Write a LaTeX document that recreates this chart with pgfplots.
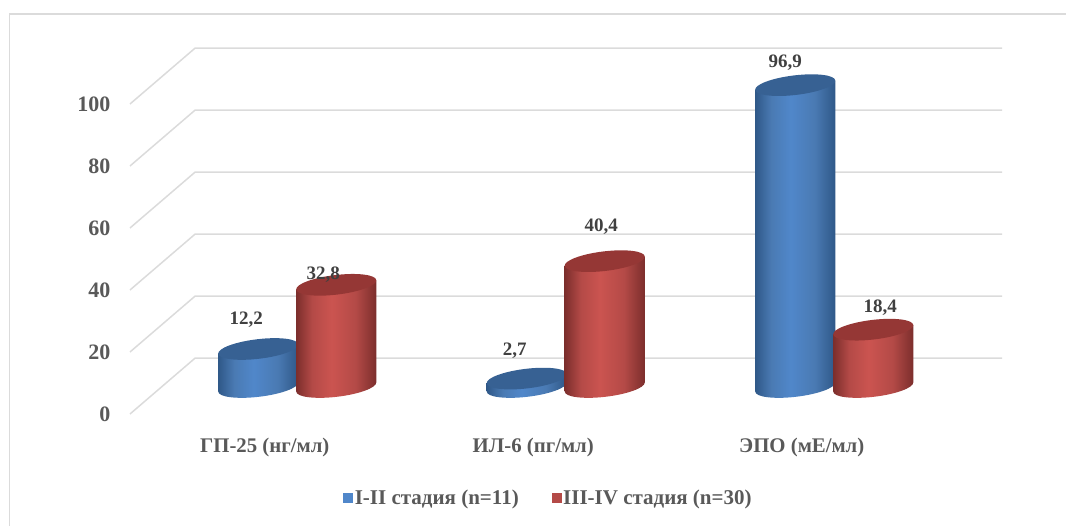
\documentclass[border=0pt]{standalone}
\usepackage{fontspec}
\setmainfont{Liberation Serif}
\usepackage{pgfplots}
\pgfplotsset{compat=1.18}

\definecolor{blueedge}{HTML}{2F5888}
\definecolor{bluemid}{HTML}{4A7AB3}
\definecolor{bluelight}{HTML}{5087CA}
\definecolor{bluetop}{HTML}{376193}
\definecolor{rededge}{HTML}{7C2E2C}
\definecolor{redmid}{HTML}{B44A47}
\definecolor{redlight}{HTML}{CB5450}
\definecolor{redtop}{HTML}{953735}
\definecolor{gridgray}{HTML}{DBDBDB}
\definecolor{axistext}{HTML}{595959}
\definecolor{valuetext}{HTML}{404040}

\pgfdeclarehorizontalshading{cylblue}{100bp}{%
  color(0bp)=(blueedge);color(25bp)=(blueedge);color(35bp)=(bluemid);
  color(47bp)=(bluelight);color(62bp)=(bluemid);color(75bp)=(blueedge);color(100bp)=(blueedge)}
\pgfdeclarehorizontalshading{cylred}{100bp}{%
  color(0bp)=(rededge);color(25bp)=(rededge);color(35bp)=(redmid);
  color(47bp)=(redlight);color(62bp)=(redmid);color(75bp)=(rededge);color(100bp)=(rededge)}

% Tilted cylinder, 3.115 pt per unit of value, drawn from its top centre:
% side wall with rounded base, then the darker top face.
% The ellipse axes are 40.3 pt and 9.8 pt, turned by 6.8 degrees.
\newcommand{\defcylinder}[3]{%
  \pgfdeclareplotmark{#1}{%
    \pgfmathsetmacro\cylH{\val*3.115}%
    \pgfscope
      \pgfpathmoveto{\pgfqpoint{-40.04pt}{-4.49pt}}%
      \pgfpathlineto{\pgfpoint{-40.04pt}{-4.49pt-\cylH pt}}%
      \pgfpatharcaxes{178.34}{358.34}{\pgfqpoint{40.02pt}{4.77pt}}{\pgfqpoint{-1.16pt}{9.73pt}}%
      \pgfpathlineto{\pgfqpoint{40.04pt}{4.49pt}}%
      \pgfpathclose
      \pgfshadepath{#2}{0}%
      \pgfusepath{discard}%
    \endpgfscope
    \pgfscope
      \pgfpathellipse{\pgfpointorigin}{\pgfqpoint{40.02pt}{4.77pt}}{\pgfqpoint{-1.16pt}{9.73pt}}%
      \pgfsetfillcolor{#3}%
      \pgfusepath{fill}%
    \endpgfscope
  }}
\defcylinder{cylb}{cylblue}{bluetop}
\defcylinder{cylr}{cylred}{redtop}

\begin{document}
\begin{tikzpicture}[x=1pt,y=1pt]
\useasboundingbox (0,0) rectangle (1066,526);
% chart frame
\draw[color=gridgray,line width=1.3pt] (9.5,0) -- (9.5,512) -- (1066,512);

% value scale with the receding floor and wall lines
\begin{axis}[
  at={(130pt,112pt)},anchor=south west,scale only axis,
  width=872pt,height=310pt,
  xmin=130,xmax=1002,ymin=0,ymax=100,clip=false,
  axis line style={draw=none},
  xtick=\empty,ytick={0,20,40,60,80,100},
  major tick length=0pt,
  /pgf/number format/assume math mode=true,
  yticklabel style={font=\bfseries\fontsize{22}{24}\selectfont,text=axistext,anchor=east,xshift=-16pt},
]
\addplot[gridgray,line width=1.5pt,no marks] coordinates {(130,0)(195,18)(1002,18)};
\addplot[gridgray,line width=1.5pt,no marks] coordinates {(130,20)(195,38)(1002,38)};
\addplot[gridgray,line width=1.5pt,no marks] coordinates {(130,40)(195,58)(1002,58)};
\addplot[gridgray,line width=1.5pt,no marks] coordinates {(130,60)(195,78)(1002,78)};
\addplot[gridgray,line width=1.5pt,no marks] coordinates {(130,80)(195,98)(1002,98)};
\addplot[gridgray,line width=1.5pt,no marks] coordinates {(130,100)(195,118)(1002,118)};
\end{axis}

% cylinders by category
\begin{axis}[
  at={(163pt,139pt)},anchor=south west,scale only axis,
  width=805.5pt,height=311.5pt,
  xmin=-0.5,xmax=2.5,ymin=0,ymax=100,clip=false,
  axis line style={draw=none},
  xtick={0,1,2},ytick=\empty,
  xticklabels={ГП-25 (нг/мл),ИЛ-6 (пг/мл),ЭПО (мЕ/мл)},
  major tick length=0pt,
  xticklabel style={font=\bfseries\fontsize{20.8}{24}\selectfont,text=axistext,anchor=center,xshift=-32.5pt,yshift=-61pt},
  legend style={at={(0.4786,-0.3565)},anchor=center,draw=none,fill=none,
    font=\bfseries\fontsize{21}{24}\selectfont,text=axistext,
    legend columns=2,/tikz/every even column/.append style={column sep=31pt}},
  legend image code/.code={\fill[#1] (0pt,-4.5pt) rectangle (9pt,4.5pt);},
  visualization depends on={rawy \as \val},
]
\addplot[scatter,only marks,mark=cylb,xshift=-39pt,forget plot]
  coordinates {(0,12.2)(1,2.7)(2,96.9)};
\addplot[scatter,only marks,mark=cylr,xshift=39pt,forget plot]
  coordinates {(0,32.8)(1,40.4)(2,18.4)};

\addlegendimage{bluelight}
\addlegendentry{I-II стадия (n=11)}
\addlegendimage{redmid}
\addlegendentry{III-IV стадия (n=30)}
\end{axis}

% value labels above the cylinders
\begin{axis}[
  at={(163pt,139pt)},anchor=south west,scale only axis,
  width=805.5pt,height=311.5pt,
  xmin=-0.5,xmax=2.5,ymin=0,ymax=100,clip=false,hide axis,
]
\begin{scope}[every node/.style={font=\bfseries\fontsize{19}{22}\selectfont,text=valuetext,inner sep=0pt}]
\node[xshift=-51pt,yshift=29pt] at (axis cs:0,12.2) {12,2};
\node[xshift=26pt,yshift=10.5pt] at (axis cs:0,32.8) {32,8};
\node[xshift=-51pt,yshift=28pt] at (axis cs:1,2.7) {2,7};
\node[xshift=35.5pt,yshift=34pt] at (axis cs:1,40.4) {40,4};
\node[xshift=-49pt,yshift=22.5pt] at (axis cs:2,96.9) {96,9};
\node[xshift=46pt,yshift=22pt] at (axis cs:2,18.4) {18,4};
\end{scope}
\end{axis}
\end{tikzpicture}
\end{document}
